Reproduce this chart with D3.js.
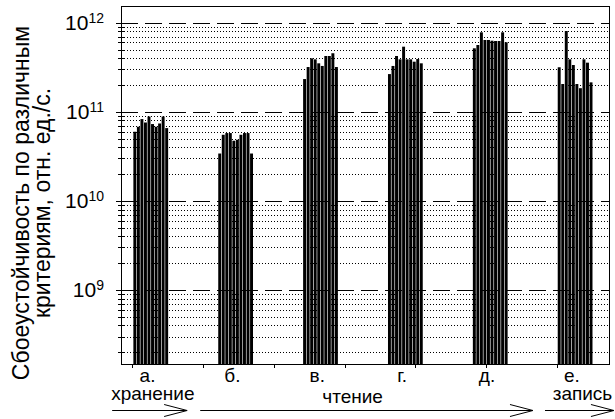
<!DOCTYPE html>
<html>
<head>
<meta charset="utf-8">
<script src="https://d3js.org/d3.v7.min.js"></script>
<style>
  body { margin: 0; background: white; }
  text { font-family: "Liberation Sans", Arial, sans-serif; fill: black; }
</style>
</head>
<body>
<svg id="chart" width="615" height="419"></svg>
<script>
// group labels under the bars
var groups = ["а.", "б.", "в.", "г.", "д.", "е."];
// 10 bars per group, values in rel. units per second
var values = [
  [5.97e10, 6.79e10, 8.28e10, 7.58e10, 8.85e10, 7.28e10, 6.79e10, 7.39e10, 8.85e10, 6.56e10],
  [3.40e10, 5.52e10, 5.77e10, 5.77e10, 4.73e10, 4.85e10, 5.52e10, 5.77e10, 5.77e10, 3.40e10],
  [2.33e11, 3.18e11, 3.98e11, 3.88e11, 3.50e11, 3.27e11, 4.23e11, 4.23e11, 4.54e11, 3.18e11],
  [2.65e11, 3.27e11, 4.23e11, 3.88e11, 5.38e11, 3.88e11, 3.88e11, 3.65e11, 3.91e11, 3.50e11],
  [5.16e11, 5.62e11, 7.80e11, 6.40e11, 6.40e11, 6.28e11, 6.23e11, 6.23e11, 7.80e11, 6.03e11],
  [3.16e11, 2.05e11, 8.07e11, 3.88e11, 3.35e11, 2.05e11, 1.84e11, 3.88e11, 3.56e11, 2.14e11]
];
var majorTicks = [1e9, 1e10, 1e11, 1e12];
var yLabel = ["Сбоеустойчивость по различным", "критериям, отн. ед./с."];
var phases = ["хранение", "чтение", "запись"];

var svg = d3.select("#chart");
var mLeft = 121, mRight = 609, mTop = 6, mBottom = 364;

var x = d3.scaleLinear().domain([-3.5, 134.5]).range([mLeft, mRight]);
var y = d3.scaleLog().domain([1.475e8, 1.54e12]).range([mBottom, mTop]);
var step = x(1) - x(0);

var minorTicks = [];
[1e8, 1e9, 1e10, 1e11].forEach(function(p) {
  for (var k = 2; k <= 9; k++) {
    var v = k * p;
    if (v > y.domain()[0] && v < y.domain()[1]) minorTicks.push(v);
  }
});

// bars
var bars = [];
values.forEach(function(g, gi) {
  g.forEach(function(v, i) { bars.push({ pos: gi * 24 + i, v: v }); });
});
svg.append("g").selectAll("rect").data(bars).enter().append("rect")
  .attr("x", function(d) { return x(d.pos); })
  .attr("width", step - 0.6)
  .attr("y", function(d) { return y(d.v); })
  .attr("height", function(d) { return mBottom - y(d.v); })
  .attr("fill", "black");

// grid
svg.append("g").selectAll("line").data(minorTicks).enter().append("line")
  .attr("x1", mLeft).attr("x2", mRight)
  .attr("y1", function(d) { return Math.round(y(d)) + 0.5; })
  .attr("y2", function(d) { return Math.round(y(d)) + 0.5; })
  .attr("stroke", "black").attr("stroke-width", 1).attr("stroke-dasharray", "1,2");
svg.append("g").selectAll("line").data(majorTicks).enter().append("line")
  .attr("x1", mLeft).attr("x2", mRight)
  .attr("y1", function(d) { return Math.round(y(d)) + 0.5; })
  .attr("y2", function(d) { return Math.round(y(d)) + 0.5; })
  .attr("stroke", "black").attr("stroke-width", 1).attr("stroke-dasharray", "17,7");

// y ticks (crossing the axis)
svg.append("g").selectAll("line").data(minorTicks).enter().append("line")
  .attr("x1", mLeft - 3).attr("x2", mLeft + 3)
  .attr("y1", function(d) { return Math.round(y(d)) + 0.5; })
  .attr("y2", function(d) { return Math.round(y(d)) + 0.5; })
  .attr("stroke", "black");
svg.append("g").selectAll("line").data(majorTicks).enter().append("line")
  .attr("x1", mLeft - 5).attr("x2", mLeft + 5)
  .attr("y1", function(d) { return Math.round(y(d)) + 0.5; })
  .attr("y2", function(d) { return Math.round(y(d)) + 0.5; })
  .attr("stroke", "black");

// y tick labels 10^n
var lab = svg.append("g").selectAll("text").data(majorTicks).enter().append("text")
  .attr("x", 104).attr("y", function(d) { return y(d) + 7.5; })
  .attr("text-anchor", "end").style("font-size", "21px");
lab.append("tspan").text("10");
lab.append("tspan").attr("dy", -7).style("font-size", "14px")
  .text(function(d) { return Math.round(Math.log10(d)); });

// x ticks
svg.append("g").selectAll("line").data(d3.range(0, 121, 20)).enter().append("line")
  .attr("x1", function(d) { return Math.round(x(d)) - 0.5; })
  .attr("x2", function(d) { return Math.round(x(d)) - 0.5; })
  .attr("y1", mBottom).attr("y2", mBottom + 4)
  .attr("stroke", "black");

// frame
svg.append("rect").attr("x", mLeft + 0.5).attr("y", mTop + 0.5)
  .attr("width", mRight - mLeft).attr("height", mBottom - mTop)
  .attr("fill", "none").attr("stroke", "black");

// group labels
svg.append("g").selectAll("text").data(groups).enter().append("text")
  .attr("x", function(d, i) { return x(i * 24 + 4); })
  .attr("y", 382).attr("text-anchor", "middle").style("font-size", "19px")
  .text(function(d) { return d; });

// phase labels and arrows
var phasePos = [
  { cx: x(5.5), ty: 400, x1: x(-6), x2: x(15.2) },
  { cx: x(62), ty: 403, x1: x(18.9), x2: x(113) },
  { cx: x(127), ty: 400, x1: x(116.4), x2: x(135.9) }
];
var ph = svg.append("g").selectAll("g").data(phases).enter().append("g");
ph.append("text")
  .attr("x", function(d, i) { return phasePos[i].cx; })
  .attr("y", function(d, i) { return phasePos[i].ty; })
  .attr("text-anchor", "middle").style("font-size", "19px")
  .text(function(d) { return d; });
ph.append("line")
  .attr("x1", function(d, i) { return phasePos[i].x1; })
  .attr("x2", function(d, i) { return phasePos[i].x2; })
  .attr("y1", 410.5).attr("y2", 410.5).attr("stroke", "black");
ph.append("path")
  .attr("d", function(d, i) {
    var t = phasePos[i].x2;
    return "M" + (t - 23) + ",404.5L" + t + ",410.5L" + (t - 23) + ",416.5";
  })
  .attr("fill", "none").attr("stroke", "black");

// y axis title
svg.append("g").selectAll("text").data(yLabel).enter().append("text")
  .attr("transform", function(d, i) { return "translate(" + (29 + i * 21) + ",203) rotate(-90)"; })
  .attr("text-anchor", "middle").style("font-size", "23px")
  .text(function(d) { return d; });
</script>
</body>
</html>
